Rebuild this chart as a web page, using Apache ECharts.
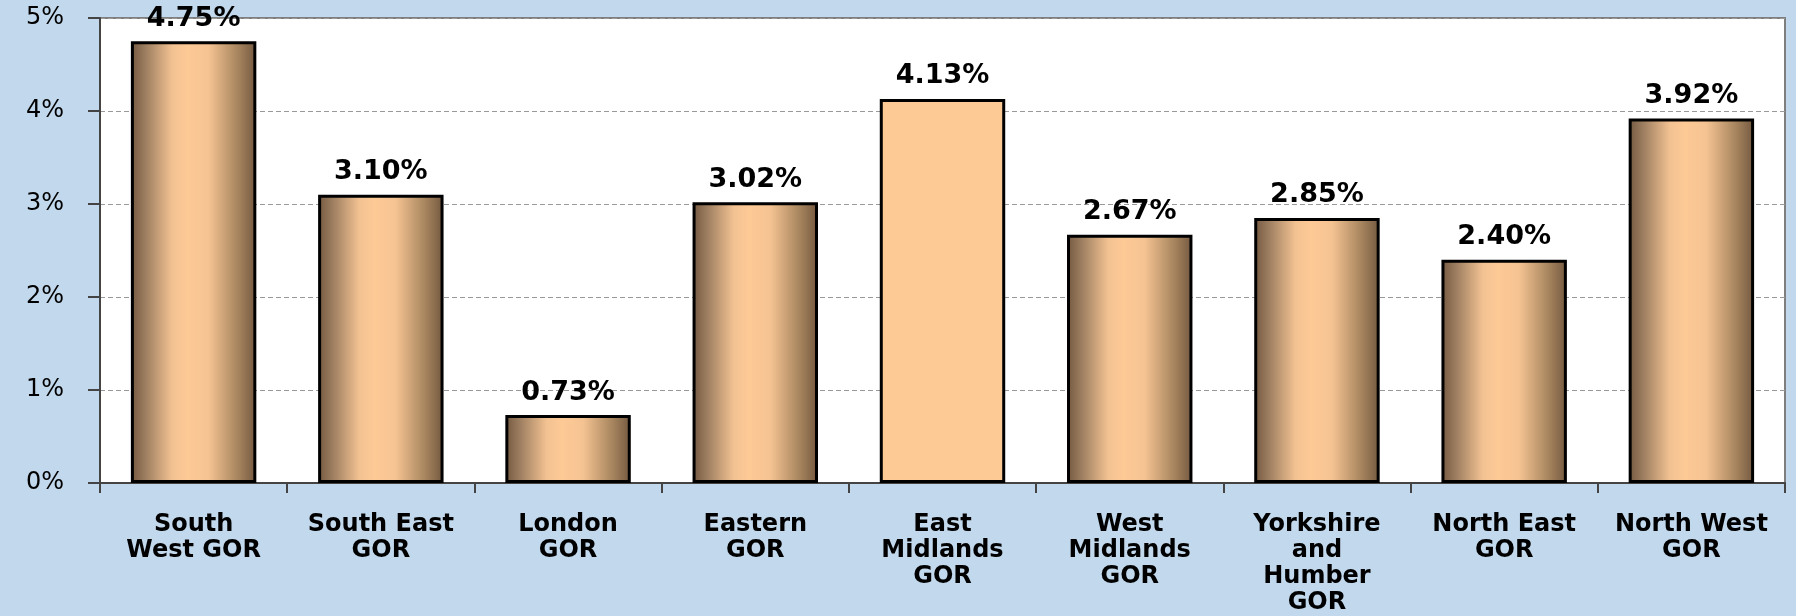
<!DOCTYPE html>
<html>
<head>
<meta charset="utf-8">
<style>
  html, body { margin: 0; padding: 0; background: #c2d8ec; }
  #main { width: 1796px; height: 616px; }
</style>
<script src="https://cdn.jsdelivr.net/npm/echarts@6/dist/echarts.min.js"></script>
</head>
<body>
<div id="main"></div>
<script>
var regions = [
  "South\nWest GOR",
  "South East\nGOR",
  "London\nGOR",
  "Eastern\nGOR",
  "East\nMidlands\nGOR",
  "West\nMidlands\nGOR",
  "Yorkshire\nand\nHumber\nGOR",
  "North East\nGOR",
  "North West\nGOR"
];
var rates = [4.75, 3.10, 0.73, 3.02, 4.13, 2.67, 2.85, 2.40, 3.92];
var highlighted = 4; // East Midlands drawn flat, not shaded

var chartDom = document.getElementById("main");
var myChart = echarts.init(chartDom);

// shaded cylinder look: dark edges, light middle
var shade = new echarts.graphic.LinearGradient(0, 0, 1, 0, [
  { offset: 0, color: "#735840" },
  { offset: 0.12, color: "#9e7f61" },
  { offset: 0.33, color: "#f3c292" },
  { offset: 0.45, color: "#fdca96" },
  { offset: 0.62, color: "#f5c392" },
  { offset: 0.85, color: "#a8865f" },
  { offset: 1, color: "#735840" }
]);

var option = {
  backgroundColor: "#c2d8ec",
  animation: false,
  grid: {
    left: 100,
    right: 11,
    top: 18,
    bottom: 127,
    show: true,
    backgroundColor: "#ffffff",
    borderColor: "#7f7f7f",
    borderWidth: 2
  },
  xAxis: {
    type: "category",
    data: regions,
    axisLine: { lineStyle: { color: "#444", width: 2 } },
    axisTick: { show: true, length: 10, lineStyle: { color: "#444", width: 2 } },
    axisLabel: {
      interval: 0,
      margin: 29,
      color: "#000",
      fontFamily: "DejaVu Sans",
      fontWeight: "bold",
      fontSize: 24,
      lineHeight: 26
    }
  },
  yAxis: {
    type: "value",
    min: 0,
    max: 5,
    interval: 1,
    axisLine: { show: true, lineStyle: { color: "#444", width: 2 } },
    axisTick: { show: true, length: 12, lineStyle: { color: "#444", width: 2 } },
    axisLabel: {
      formatter: "{value}%",
      margin: 36,
      color: "#000",
      fontFamily: "DejaVu Sans",
      fontSize: 24
    },
    splitLine: { lineStyle: { color: "#999", type: [5, 3], width: 1 } }
  },
  series: [
    {
      type: "bar",
      data: rates.map(function (v, i) {
        return {
          value: v,
          itemStyle: { color: i === highlighted ? "#fdca96" : shade }
        };
      }),
      barCategoryGap: "33%",
      itemStyle: { borderColor: "#000", borderWidth: 3 },
      label: {
        show: true,
        position: "top",
        distance: 9,
        formatter: function (p) { return p.value.toFixed(2) + "%"; },
        color: "#000",
        fontFamily: "DejaVu Sans",
        fontWeight: "bold",
        fontSize: 27
      }
    }
  ]
};

option && myChart.setOption(option);
</script>
</body>
</html>
